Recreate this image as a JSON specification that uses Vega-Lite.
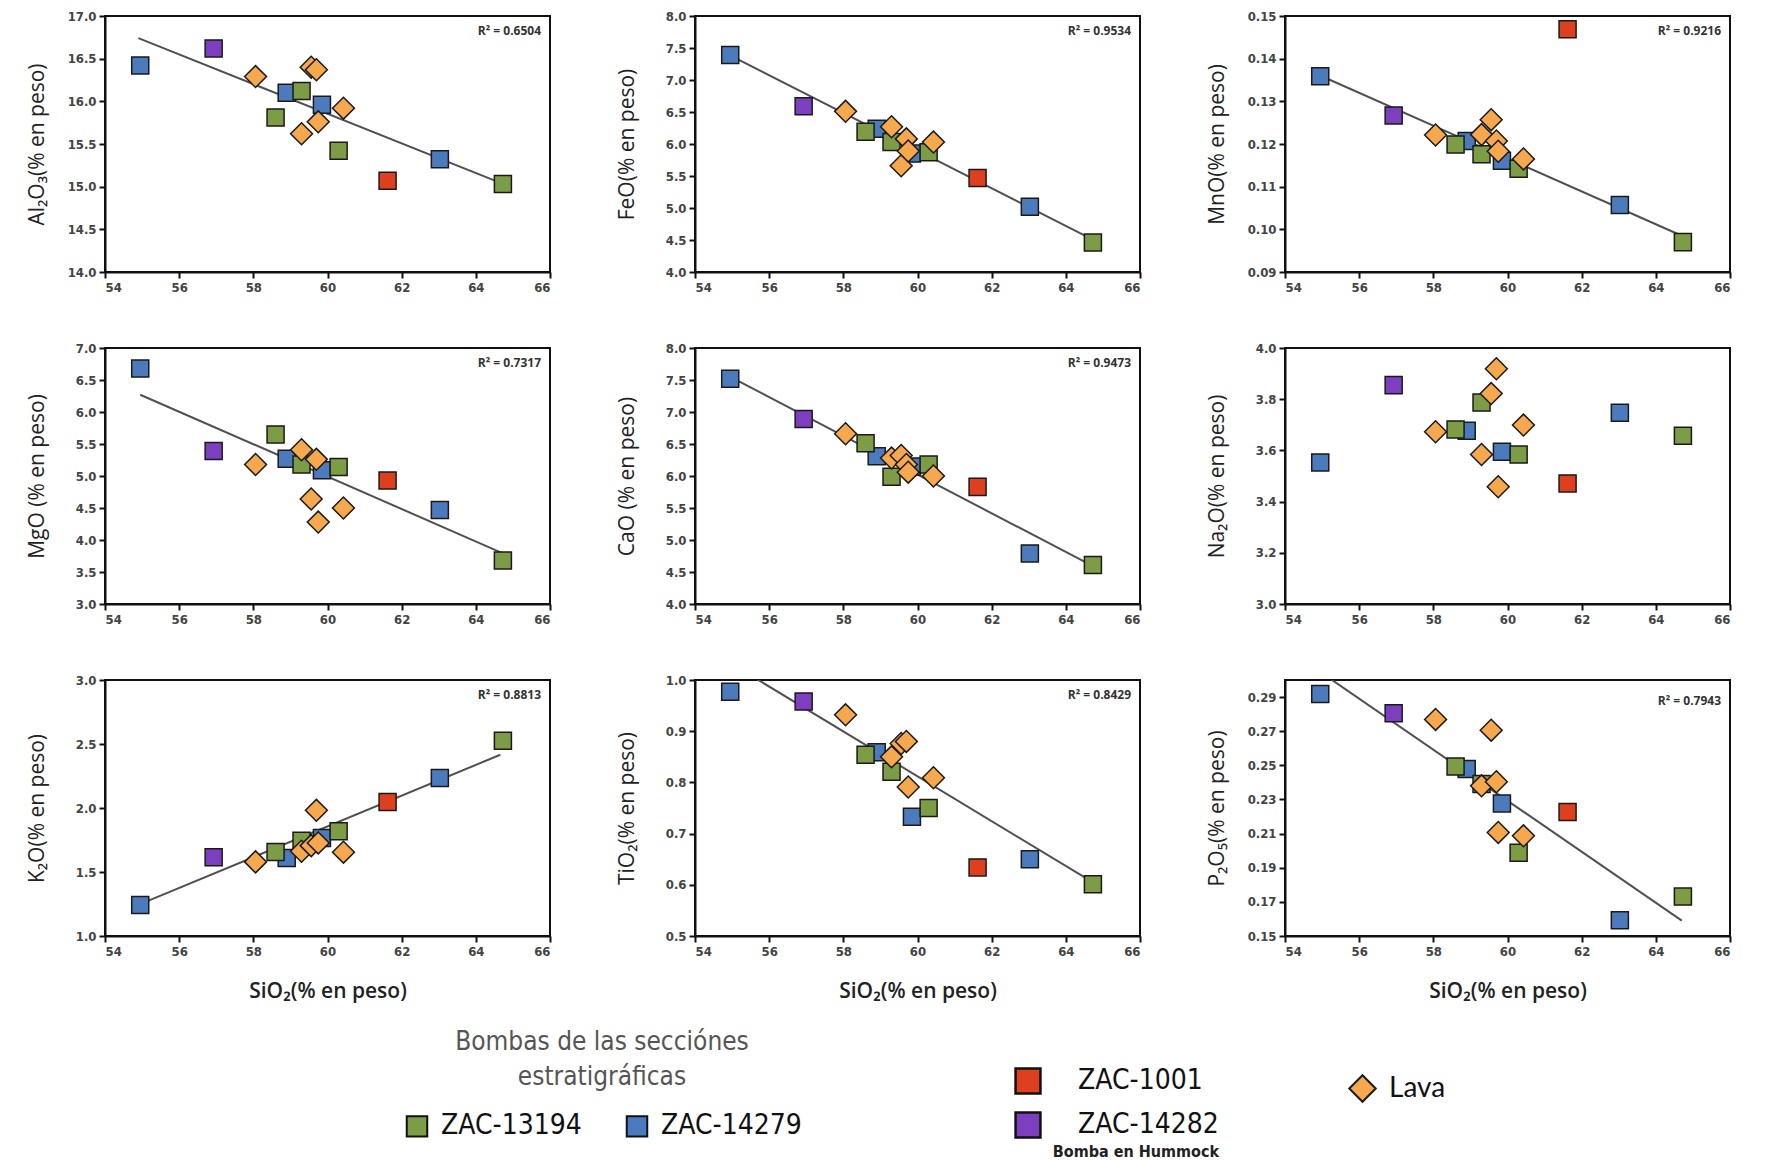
{
  "$schema": "https://vega.github.io/schema/vega-lite/v6.json",
  "padding": {"left": 24, "top": 9, "right": 5, "bottom": 5},
  "background": "white",
  "datasets": {
    "muestras": [
      {"muestra": "B1", "grupo": "ZAC-14279", "SiO2": 54.95, "Al2O3": 16.42, "FeO": 7.39, "MnO": 0.1359, "MgO": 6.68, "CaO": 7.52, "Na2O": 3.553, "K2O": 1.242, "TiO2": 0.977, "P2O5": 0.2918},
      {"muestra": "B2", "grupo": "ZAC-14279", "SiO2": 58.9, "Al2O3": 16.10, "FeO": 6.24, "MnO": 0.1207, "MgO": 5.27, "CaO": 6.31, "Na2O": 3.677, "K2O": 1.61, "TiO2": 0.859, "P2O5": 0.2479},
      {"muestra": "B3", "grupo": "ZAC-14279", "SiO2": 59.85, "Al2O3": 15.96, "FeO": 5.85, "MnO": 0.1161, "MgO": 5.09, "CaO": 6.15, "Na2O": 3.595, "K2O": 1.766, "TiO2": 0.733, "P2O5": 0.2277},
      {"muestra": "B4", "grupo": "ZAC-14279", "SiO2": 63.03, "Al2O3": 15.32, "FeO": 5.02, "MnO": 0.1057, "MgO": 4.47, "CaO": 4.79, "Na2O": 3.747, "K2O": 2.234, "TiO2": 0.650, "P2O5": 0.1592},
      {"muestra": "G1", "grupo": "ZAC-13194", "SiO2": 58.6, "Al2O3": 15.81, "FeO": 6.19, "MnO": 0.1199, "MgO": 5.65, "CaO": 6.51, "Na2O": 3.682, "K2O": 1.657, "TiO2": 0.854, "P2O5": 0.2493},
      {"muestra": "G2", "grupo": "ZAC-13194", "SiO2": 59.3, "Al2O3": 16.12, "FeO": 6.03, "MnO": 0.1176, "MgO": 5.18, "CaO": 5.99, "Na2O": 3.787, "K2O": 1.745, "TiO2": 0.821, "P2O5": 0.239},
      {"muestra": "G3", "grupo": "ZAC-13194", "SiO2": 60.3, "Al2O3": 15.42, "FeO": 5.87, "MnO": 0.1142, "MgO": 5.14, "CaO": 6.18, "Na2O": 3.584, "K2O": 1.818, "TiO2": 0.750, "P2O5": 0.1988},
      {"muestra": "G4", "grupo": "ZAC-13194", "SiO2": 64.73, "Al2O3": 15.03, "FeO": 4.46, "MnO": 0.0970, "MgO": 3.68, "CaO": 4.61, "Na2O": 3.657, "K2O": 2.525, "TiO2": 0.601, "P2O5": 0.1731},
      {"muestra": "R1", "grupo": "ZAC-1001", "SiO2": 61.62, "Al2O3": 15.07, "FeO": 5.47, "MnO": 0.1469, "MgO": 4.93, "CaO": 5.83, "Na2O": 3.471, "K2O": 2.047, "TiO2": 0.634, "P2O5": 0.2226},
      {"muestra": "P1", "grupo": "ZAC-14282", "SiO2": 56.93, "Al2O3": 16.62, "FeO": 6.59, "MnO": 0.1267, "MgO": 5.39, "CaO": 6.89, "Na2O": 3.855, "K2O": 1.616, "TiO2": 0.958, "P2O5": 0.2805},
      {"muestra": "L1", "grupo": "Lava", "SiO2": 58.06, "Al2O3": 16.29, "FeO": 6.51, "MnO": 0.1221, "MgO": 5.18, "CaO": 6.66, "Na2O": 3.673, "K2O": 1.579, "TiO2": 0.932, "P2O5": 0.2769},
      {"muestra": "L2", "grupo": "Lava", "SiO2": 59.3, "Al2O3": 15.62, "FeO": 6.27, "MnO": 0.1222, "MgO": 5.41, "CaO": 6.28, "Na2O": 3.584, "K2O": 1.662, "TiO2": 0.850, "P2O5": 0.238},
      {"muestra": "L3", "grupo": "Lava", "SiO2": 59.56, "Al2O3": 16.40, "FeO": 5.66, "MnO": 0.1257, "MgO": 4.64, "CaO": 6.32, "Na2O": 3.822, "K2O": 1.706, "TiO2": 0.876, "P2O5": 0.2706},
      {"muestra": "L4", "grupo": "Lava", "SiO2": 59.7, "Al2O3": 16.37, "FeO": 6.08, "MnO": 0.1207, "MgO": 5.26, "CaO": 6.18, "Na2O": 3.919, "K2O": 1.982, "TiO2": 0.880, "P2O5": 0.2404},
      {"muestra": "L5", "grupo": "Lava", "SiO2": 59.75, "Al2O3": 15.76, "FeO": 5.89, "MnO": 0.1183, "MgO": 4.28, "CaO": 6.06, "Na2O": 3.458, "K2O": 1.727, "TiO2": 0.791, "P2O5": 0.2107},
      {"muestra": "L6", "grupo": "Lava", "SiO2": 60.43, "Al2O3": 15.92, "FeO": 6.03, "MnO": 0.1165, "MgO": 4.50, "CaO": 6.00, "Na2O": 3.699, "K2O": 1.655, "TiO2": 0.809, "P2O5": 0.2087}
    ],
    "lineas": [
      {"oxido": "Al2O3", "SiO2": 54.9, "valor": 16.74},
      {"oxido": "Al2O3", "SiO2": 64.75, "valor": 15.03},
      {"oxido": "FeO", "SiO2": 55.0, "valor": 7.37},
      {"oxido": "FeO", "SiO2": 64.78, "valor": 4.49},
      {"oxido": "MnO", "SiO2": 54.96, "valor": 0.136},
      {"oxido": "MnO", "SiO2": 64.7, "valor": 0.0985},
      {"oxido": "MgO", "SiO2": 54.95, "valor": 6.27},
      {"oxido": "MgO", "SiO2": 64.7, "valor": 3.80},
      {"oxido": "CaO", "SiO2": 54.98, "valor": 7.54},
      {"oxido": "CaO", "SiO2": 64.67, "valor": 4.61},
      {"oxido": "K2O", "SiO2": 54.93, "valor": 1.247},
      {"oxido": "K2O", "SiO2": 64.66, "valor": 2.416},
      {"oxido": "TiO2", "SiO2": 55.0, "valor": 1.031},
      {"oxido": "TiO2", "SiO2": 64.7, "valor": 0.606},
      {"oxido": "P2O5", "SiO2": 55.0, "valor": 0.304},
      {"oxido": "P2O5", "SiO2": 64.7, "valor": 0.159}
    ]
  },
  "concat": [
    {
      "width": 445, "height": 256,
      "title": {"text": "R² = 0.6504"},
      "encoding": {"x": {"field": "SiO2", "type": "quantitative", "scale": {"domain": [54, 66], "nice": false, "zero": false}, "axis": {"values": [54, 56, 58, 60, 62, 64, 66], "title": null}}},
      "layer": [
        {"data": {"name": "lineas"}, "transform": [{"filter": "datum.oxido == 'Al2O3'"}], "mark": {"type": "line", "clip": true},
         "encoding": {"y": {"field": "valor", "type": "quantitative", "scale": {"domain": [14, 17], "nice": false, "zero": false}, "axis": {"values": [14, 14.5, 15, 15.5, 16, 16.5, 17], "format": ".1f", "title": "Al₂O₃(% en peso)"}}}},
        {"data": {"name": "muestras"}, "transform": [{"filter": "datum.grupo == 'ZAC-13194' || datum.grupo == 'ZAC-14279'"}], "mark": {"type": "point", "shape": "square", "size": 290, "filled": true, "opacity": 1, "stroke": "#1a1a1a", "strokeWidth": 1.5},
         "encoding": {"y": {"field": "Al2O3", "type": "quantitative", "scale": {"domain": [14, 17], "nice": false, "zero": false}, "axis": {"values": [14, 14.5, 15, 15.5, 16, 16.5, 17], "format": ".1f", "title": "Al₂O₃(% en peso)"}},
          "fill": {"field": "grupo", "type": "nominal", "scale": {"domain": ["ZAC-13194", "ZAC-14279"], "range": ["#7c9c45", "#4c7bbd"]}, "legend": {"title": ["Bombas de las secciónes", "estratigráficas"], "orient": "none", "legendX": 298, "legendY": 1013, "direction": "horizontal", "titleAnchor": "middle", "titleFontSize": 26, "titleLineHeight": 35, "titleColor": "#555", "titleFontWeight": "normal", "titlePadding": 22, "labelFontSize": 28, "symbolType": "square", "symbolSize": 420, "symbolStrokeColor": "#111", "symbolStrokeWidth": 2, "columnPadding": 40, "labelOffset": 10}}}},
        {"data": {"name": "muestras"}, "transform": [{"filter": "datum.grupo == 'ZAC-1001' || datum.grupo == 'ZAC-14282'"}], "mark": {"type": "point", "shape": "square", "size": 290, "filled": true, "opacity": 1, "stroke": "#1a1a1a", "strokeWidth": 1.5},
         "encoding": {"y": {"field": "Al2O3", "type": "quantitative", "scale": {"domain": [14, 17], "nice": false, "zero": false}, "axis": {"values": [14, 14.5, 15, 15.5, 16, 16.5, 17], "format": ".1f", "title": "Al₂O₃(% en peso)"}},
          "color": {"field": "grupo", "type": "nominal", "scale": {"domain": ["ZAC-1001", "ZAC-14282"], "range": ["#de3f1f", "#7b3fbf"]}, "legend": {"title": "Bomba en Hummock", "titleOrient": "bottom", "titleAnchor": "end", "titleFontSize": 16, "titleFontWeight": "bold", "titleColor": "#222", "titlePadding": 2, "orient": "none", "legendX": 909, "legendY": 1051, "direction": "vertical", "labelFontSize": 28, "symbolType": "square", "symbolSize": 620, "symbolStrokeColor": "#111", "symbolStrokeWidth": 2.5, "rowPadding": 8, "labelOffset": 36}}}},
        {"data": {"name": "muestras"}, "transform": [{"filter": "datum.grupo == 'Lava'"}], "mark": {"type": "point", "shape": "diamond", "size": 480, "filled": true, "opacity": 1, "fill": "#f5a84e", "strokeWidth": 1.5},
         "encoding": {"y": {"field": "Al2O3", "type": "quantitative", "scale": {"domain": [14, 17], "nice": false, "zero": false}, "axis": {"values": [14, 14.5, 15, 15.5, 16, 16.5, 17], "format": ".1f", "title": "Al₂O₃(% en peso)"}},
          "stroke": {"field": "grupo", "type": "nominal", "scale": {"domain": ["Lava"], "range": ["#1a1a1a"]}, "legend": {"title": null, "orient": "none", "legendX": 1243, "legendY": 1058, "labelFontSize": 28, "labelFont": "Lato", "symbolType": "diamond", "symbolSize": 700, "symbolStrokeWidth": 2, "symbolFillColor": "#f5a84e", "labelOffset": 12}}}}
      ]
    },
    {
      "width": 445, "height": 256,
      "title": {"text": "R² = 0.9534"},
      "encoding": {"x": {"field": "SiO2", "type": "quantitative", "scale": {"domain": [54, 66], "nice": false, "zero": false}, "axis": {"values": [54, 56, 58, 60, 62, 64, 66], "title": null}}},
      "layer": [
        {"data": {"name": "lineas"}, "transform": [{"filter": "datum.oxido == 'FeO'"}], "mark": {"type": "line", "clip": true},
         "encoding": {"y": {"field": "valor", "type": "quantitative", "scale": {"domain": [4, 8], "nice": false, "zero": false}, "axis": {"values": [4, 4.5, 5, 5.5, 6, 6.5, 7, 7.5, 8], "format": ".1f", "title": "FeO(% en peso)"}}}},
        {"data": {"name": "muestras"}, "transform": [{"filter": "datum.grupo == 'ZAC-13194' || datum.grupo == 'ZAC-14279'"}], "mark": {"type": "point", "shape": "square", "size": 290, "filled": true, "opacity": 1, "stroke": "#1a1a1a", "strokeWidth": 1.5},
         "encoding": {"y": {"field": "FeO", "type": "quantitative", "scale": {"domain": [4, 8], "nice": false, "zero": false}, "axis": {"values": [4, 4.5, 5, 5.5, 6, 6.5, 7, 7.5, 8], "format": ".1f", "title": "FeO(% en peso)"}},
          "fill": {"field": "grupo", "type": "nominal", "scale": {"domain": ["ZAC-13194", "ZAC-14279"], "range": ["#7c9c45", "#4c7bbd"]}, "legend": {"title": ["Bombas de las secciónes", "estratigráficas"], "orient": "none", "legendX": 298, "legendY": 1013, "direction": "horizontal", "titleAnchor": "middle", "titleFontSize": 26, "titleLineHeight": 35, "titleColor": "#555", "titleFontWeight": "normal", "titlePadding": 22, "labelFontSize": 28, "symbolType": "square", "symbolSize": 420, "symbolStrokeColor": "#111", "symbolStrokeWidth": 2, "columnPadding": 40, "labelOffset": 10}}}},
        {"data": {"name": "muestras"}, "transform": [{"filter": "datum.grupo == 'ZAC-1001' || datum.grupo == 'ZAC-14282'"}], "mark": {"type": "point", "shape": "square", "size": 290, "filled": true, "opacity": 1, "stroke": "#1a1a1a", "strokeWidth": 1.5},
         "encoding": {"y": {"field": "FeO", "type": "quantitative", "scale": {"domain": [4, 8], "nice": false, "zero": false}, "axis": {"values": [4, 4.5, 5, 5.5, 6, 6.5, 7, 7.5, 8], "format": ".1f", "title": "FeO(% en peso)"}},
          "color": {"field": "grupo", "type": "nominal", "scale": {"domain": ["ZAC-1001", "ZAC-14282"], "range": ["#de3f1f", "#7b3fbf"]}, "legend": {"title": "Bomba en Hummock", "titleOrient": "bottom", "titleAnchor": "end", "titleFontSize": 16, "titleFontWeight": "bold", "titleColor": "#222", "titlePadding": 2, "orient": "none", "legendX": 909, "legendY": 1051, "direction": "vertical", "labelFontSize": 28, "symbolType": "square", "symbolSize": 620, "symbolStrokeColor": "#111", "symbolStrokeWidth": 2.5, "rowPadding": 8, "labelOffset": 36}}}},
        {"data": {"name": "muestras"}, "transform": [{"filter": "datum.grupo == 'Lava'"}], "mark": {"type": "point", "shape": "diamond", "size": 480, "filled": true, "opacity": 1, "fill": "#f5a84e", "strokeWidth": 1.5},
         "encoding": {"y": {"field": "FeO", "type": "quantitative", "scale": {"domain": [4, 8], "nice": false, "zero": false}, "axis": {"values": [4, 4.5, 5, 5.5, 6, 6.5, 7, 7.5, 8], "format": ".1f", "title": "FeO(% en peso)"}},
          "stroke": {"field": "grupo", "type": "nominal", "scale": {"domain": ["Lava"], "range": ["#1a1a1a"]}, "legend": {"title": null, "orient": "none", "legendX": 1243, "legendY": 1058, "labelFontSize": 28, "labelFont": "Lato", "symbolType": "diamond", "symbolSize": 700, "symbolStrokeWidth": 2, "symbolFillColor": "#f5a84e", "labelOffset": 12}}}}
      ]
    },
    {
      "width": 445, "height": 256,
      "title": {"text": "R² = 0.9216"},
      "encoding": {"x": {"field": "SiO2", "type": "quantitative", "scale": {"domain": [54, 66], "nice": false, "zero": false}, "axis": {"values": [54, 56, 58, 60, 62, 64, 66], "title": null}}},
      "layer": [
        {"data": {"name": "lineas"}, "transform": [{"filter": "datum.oxido == 'MnO'"}], "mark": {"type": "line", "clip": true},
         "encoding": {"y": {"field": "valor", "type": "quantitative", "scale": {"domain": [0.09, 0.15], "nice": false, "zero": false}, "axis": {"values": [0.09, 0.1, 0.11, 0.12, 0.13, 0.14, 0.15], "format": ".2f", "title": "MnO(% en peso)"}}}},
        {"data": {"name": "muestras"}, "transform": [{"filter": "datum.grupo == 'ZAC-13194' || datum.grupo == 'ZAC-14279'"}], "mark": {"type": "point", "shape": "square", "size": 290, "filled": true, "opacity": 1, "stroke": "#1a1a1a", "strokeWidth": 1.5},
         "encoding": {"y": {"field": "MnO", "type": "quantitative", "scale": {"domain": [0.09, 0.15], "nice": false, "zero": false}, "axis": {"values": [0.09, 0.1, 0.11, 0.12, 0.13, 0.14, 0.15], "format": ".2f", "title": "MnO(% en peso)"}},
          "fill": {"field": "grupo", "type": "nominal", "scale": {"domain": ["ZAC-13194", "ZAC-14279"], "range": ["#7c9c45", "#4c7bbd"]}, "legend": {"title": ["Bombas de las secciónes", "estratigráficas"], "orient": "none", "legendX": 298, "legendY": 1013, "direction": "horizontal", "titleAnchor": "middle", "titleFontSize": 26, "titleLineHeight": 35, "titleColor": "#555", "titleFontWeight": "normal", "titlePadding": 22, "labelFontSize": 28, "symbolType": "square", "symbolSize": 420, "symbolStrokeColor": "#111", "symbolStrokeWidth": 2, "columnPadding": 40, "labelOffset": 10}}}},
        {"data": {"name": "muestras"}, "transform": [{"filter": "datum.grupo == 'ZAC-1001' || datum.grupo == 'ZAC-14282'"}], "mark": {"type": "point", "shape": "square", "size": 290, "filled": true, "opacity": 1, "stroke": "#1a1a1a", "strokeWidth": 1.5},
         "encoding": {"y": {"field": "MnO", "type": "quantitative", "scale": {"domain": [0.09, 0.15], "nice": false, "zero": false}, "axis": {"values": [0.09, 0.1, 0.11, 0.12, 0.13, 0.14, 0.15], "format": ".2f", "title": "MnO(% en peso)"}},
          "color": {"field": "grupo", "type": "nominal", "scale": {"domain": ["ZAC-1001", "ZAC-14282"], "range": ["#de3f1f", "#7b3fbf"]}, "legend": {"title": "Bomba en Hummock", "titleOrient": "bottom", "titleAnchor": "end", "titleFontSize": 16, "titleFontWeight": "bold", "titleColor": "#222", "titlePadding": 2, "orient": "none", "legendX": 909, "legendY": 1051, "direction": "vertical", "labelFontSize": 28, "symbolType": "square", "symbolSize": 620, "symbolStrokeColor": "#111", "symbolStrokeWidth": 2.5, "rowPadding": 8, "labelOffset": 36}}}},
        {"data": {"name": "muestras"}, "transform": [{"filter": "datum.grupo == 'Lava'"}], "mark": {"type": "point", "shape": "diamond", "size": 480, "filled": true, "opacity": 1, "fill": "#f5a84e", "strokeWidth": 1.5},
         "encoding": {"y": {"field": "MnO", "type": "quantitative", "scale": {"domain": [0.09, 0.15], "nice": false, "zero": false}, "axis": {"values": [0.09, 0.1, 0.11, 0.12, 0.13, 0.14, 0.15], "format": ".2f", "title": "MnO(% en peso)"}},
          "stroke": {"field": "grupo", "type": "nominal", "scale": {"domain": ["Lava"], "range": ["#1a1a1a"]}, "legend": {"title": null, "orient": "none", "legendX": 1243, "legendY": 1058, "labelFontSize": 28, "labelFont": "Lato", "symbolType": "diamond", "symbolSize": 700, "symbolStrokeWidth": 2, "symbolFillColor": "#f5a84e", "labelOffset": 12}}}}
      ]
    },
    {
      "width": 445, "height": 256,
      "title": {"text": "R² = 0.7317"},
      "encoding": {"x": {"field": "SiO2", "type": "quantitative", "scale": {"domain": [54, 66], "nice": false, "zero": false}, "axis": {"values": [54, 56, 58, 60, 62, 64, 66], "title": null}}},
      "layer": [
        {"data": {"name": "lineas"}, "transform": [{"filter": "datum.oxido == 'MgO'"}], "mark": {"type": "line", "clip": true},
         "encoding": {"y": {"field": "valor", "type": "quantitative", "scale": {"domain": [3, 7], "nice": false, "zero": false}, "axis": {"values": [3, 3.5, 4, 4.5, 5, 5.5, 6, 6.5, 7], "format": ".1f", "title": "MgO (% en peso)"}}}},
        {"data": {"name": "muestras"}, "transform": [{"filter": "datum.grupo == 'ZAC-13194' || datum.grupo == 'ZAC-14279'"}], "mark": {"type": "point", "shape": "square", "size": 290, "filled": true, "opacity": 1, "stroke": "#1a1a1a", "strokeWidth": 1.5},
         "encoding": {"y": {"field": "MgO", "type": "quantitative", "scale": {"domain": [3, 7], "nice": false, "zero": false}, "axis": {"values": [3, 3.5, 4, 4.5, 5, 5.5, 6, 6.5, 7], "format": ".1f", "title": "MgO (% en peso)"}},
          "fill": {"field": "grupo", "type": "nominal", "scale": {"domain": ["ZAC-13194", "ZAC-14279"], "range": ["#7c9c45", "#4c7bbd"]}, "legend": {"title": ["Bombas de las secciónes", "estratigráficas"], "orient": "none", "legendX": 298, "legendY": 1013, "direction": "horizontal", "titleAnchor": "middle", "titleFontSize": 26, "titleLineHeight": 35, "titleColor": "#555", "titleFontWeight": "normal", "titlePadding": 22, "labelFontSize": 28, "symbolType": "square", "symbolSize": 420, "symbolStrokeColor": "#111", "symbolStrokeWidth": 2, "columnPadding": 40, "labelOffset": 10}}}},
        {"data": {"name": "muestras"}, "transform": [{"filter": "datum.grupo == 'ZAC-1001' || datum.grupo == 'ZAC-14282'"}], "mark": {"type": "point", "shape": "square", "size": 290, "filled": true, "opacity": 1, "stroke": "#1a1a1a", "strokeWidth": 1.5},
         "encoding": {"y": {"field": "MgO", "type": "quantitative", "scale": {"domain": [3, 7], "nice": false, "zero": false}, "axis": {"values": [3, 3.5, 4, 4.5, 5, 5.5, 6, 6.5, 7], "format": ".1f", "title": "MgO (% en peso)"}},
          "color": {"field": "grupo", "type": "nominal", "scale": {"domain": ["ZAC-1001", "ZAC-14282"], "range": ["#de3f1f", "#7b3fbf"]}, "legend": {"title": "Bomba en Hummock", "titleOrient": "bottom", "titleAnchor": "end", "titleFontSize": 16, "titleFontWeight": "bold", "titleColor": "#222", "titlePadding": 2, "orient": "none", "legendX": 909, "legendY": 1051, "direction": "vertical", "labelFontSize": 28, "symbolType": "square", "symbolSize": 620, "symbolStrokeColor": "#111", "symbolStrokeWidth": 2.5, "rowPadding": 8, "labelOffset": 36}}}},
        {"data": {"name": "muestras"}, "transform": [{"filter": "datum.grupo == 'Lava'"}], "mark": {"type": "point", "shape": "diamond", "size": 480, "filled": true, "opacity": 1, "fill": "#f5a84e", "strokeWidth": 1.5},
         "encoding": {"y": {"field": "MgO", "type": "quantitative", "scale": {"domain": [3, 7], "nice": false, "zero": false}, "axis": {"values": [3, 3.5, 4, 4.5, 5, 5.5, 6, 6.5, 7], "format": ".1f", "title": "MgO (% en peso)"}},
          "stroke": {"field": "grupo", "type": "nominal", "scale": {"domain": ["Lava"], "range": ["#1a1a1a"]}, "legend": {"title": null, "orient": "none", "legendX": 1243, "legendY": 1058, "labelFontSize": 28, "labelFont": "Lato", "symbolType": "diamond", "symbolSize": 700, "symbolStrokeWidth": 2, "symbolFillColor": "#f5a84e", "labelOffset": 12}}}}
      ]
    },
    {
      "width": 445, "height": 256,
      "title": {"text": "R² = 0.9473"},
      "encoding": {"x": {"field": "SiO2", "type": "quantitative", "scale": {"domain": [54, 66], "nice": false, "zero": false}, "axis": {"values": [54, 56, 58, 60, 62, 64, 66], "title": null}}},
      "layer": [
        {"data": {"name": "lineas"}, "transform": [{"filter": "datum.oxido == 'CaO'"}], "mark": {"type": "line", "clip": true},
         "encoding": {"y": {"field": "valor", "type": "quantitative", "scale": {"domain": [4, 8], "nice": false, "zero": false}, "axis": {"values": [4, 4.5, 5, 5.5, 6, 6.5, 7, 7.5, 8], "format": ".1f", "title": "CaO (% en peso)"}}}},
        {"data": {"name": "muestras"}, "transform": [{"filter": "datum.grupo == 'ZAC-13194' || datum.grupo == 'ZAC-14279'"}], "mark": {"type": "point", "shape": "square", "size": 290, "filled": true, "opacity": 1, "stroke": "#1a1a1a", "strokeWidth": 1.5},
         "encoding": {"y": {"field": "CaO", "type": "quantitative", "scale": {"domain": [4, 8], "nice": false, "zero": false}, "axis": {"values": [4, 4.5, 5, 5.5, 6, 6.5, 7, 7.5, 8], "format": ".1f", "title": "CaO (% en peso)"}},
          "fill": {"field": "grupo", "type": "nominal", "scale": {"domain": ["ZAC-13194", "ZAC-14279"], "range": ["#7c9c45", "#4c7bbd"]}, "legend": {"title": ["Bombas de las secciónes", "estratigráficas"], "orient": "none", "legendX": 298, "legendY": 1013, "direction": "horizontal", "titleAnchor": "middle", "titleFontSize": 26, "titleLineHeight": 35, "titleColor": "#555", "titleFontWeight": "normal", "titlePadding": 22, "labelFontSize": 28, "symbolType": "square", "symbolSize": 420, "symbolStrokeColor": "#111", "symbolStrokeWidth": 2, "columnPadding": 40, "labelOffset": 10}}}},
        {"data": {"name": "muestras"}, "transform": [{"filter": "datum.grupo == 'ZAC-1001' || datum.grupo == 'ZAC-14282'"}], "mark": {"type": "point", "shape": "square", "size": 290, "filled": true, "opacity": 1, "stroke": "#1a1a1a", "strokeWidth": 1.5},
         "encoding": {"y": {"field": "CaO", "type": "quantitative", "scale": {"domain": [4, 8], "nice": false, "zero": false}, "axis": {"values": [4, 4.5, 5, 5.5, 6, 6.5, 7, 7.5, 8], "format": ".1f", "title": "CaO (% en peso)"}},
          "color": {"field": "grupo", "type": "nominal", "scale": {"domain": ["ZAC-1001", "ZAC-14282"], "range": ["#de3f1f", "#7b3fbf"]}, "legend": {"title": "Bomba en Hummock", "titleOrient": "bottom", "titleAnchor": "end", "titleFontSize": 16, "titleFontWeight": "bold", "titleColor": "#222", "titlePadding": 2, "orient": "none", "legendX": 909, "legendY": 1051, "direction": "vertical", "labelFontSize": 28, "symbolType": "square", "symbolSize": 620, "symbolStrokeColor": "#111", "symbolStrokeWidth": 2.5, "rowPadding": 8, "labelOffset": 36}}}},
        {"data": {"name": "muestras"}, "transform": [{"filter": "datum.grupo == 'Lava'"}], "mark": {"type": "point", "shape": "diamond", "size": 480, "filled": true, "opacity": 1, "fill": "#f5a84e", "strokeWidth": 1.5},
         "encoding": {"y": {"field": "CaO", "type": "quantitative", "scale": {"domain": [4, 8], "nice": false, "zero": false}, "axis": {"values": [4, 4.5, 5, 5.5, 6, 6.5, 7, 7.5, 8], "format": ".1f", "title": "CaO (% en peso)"}},
          "stroke": {"field": "grupo", "type": "nominal", "scale": {"domain": ["Lava"], "range": ["#1a1a1a"]}, "legend": {"title": null, "orient": "none", "legendX": 1243, "legendY": 1058, "labelFontSize": 28, "labelFont": "Lato", "symbolType": "diamond", "symbolSize": 700, "symbolStrokeWidth": 2, "symbolFillColor": "#f5a84e", "labelOffset": 12}}}}
      ]
    },
    {
      "width": 445, "height": 256,
      "encoding": {"x": {"field": "SiO2", "type": "quantitative", "scale": {"domain": [54, 66], "nice": false, "zero": false}, "axis": {"values": [54, 56, 58, 60, 62, 64, 66], "title": null}}},
      "layer": [
        {"data": {"name": "muestras"}, "transform": [{"filter": "datum.grupo == 'ZAC-13194' || datum.grupo == 'ZAC-14279'"}], "mark": {"type": "point", "shape": "square", "size": 290, "filled": true, "opacity": 1, "stroke": "#1a1a1a", "strokeWidth": 1.5},
         "encoding": {"y": {"field": "Na2O", "type": "quantitative", "scale": {"domain": [3, 4], "nice": false, "zero": false}, "axis": {"values": [3, 3.2, 3.4, 3.6, 3.8, 4], "format": ".1f", "title": "Na₂O(% en peso)"}},
          "fill": {"field": "grupo", "type": "nominal", "scale": {"domain": ["ZAC-13194", "ZAC-14279"], "range": ["#7c9c45", "#4c7bbd"]}, "legend": {"title": ["Bombas de las secciónes", "estratigráficas"], "orient": "none", "legendX": 298, "legendY": 1013, "direction": "horizontal", "titleAnchor": "middle", "titleFontSize": 26, "titleLineHeight": 35, "titleColor": "#555", "titleFontWeight": "normal", "titlePadding": 22, "labelFontSize": 28, "symbolType": "square", "symbolSize": 420, "symbolStrokeColor": "#111", "symbolStrokeWidth": 2, "columnPadding": 40, "labelOffset": 10}}}},
        {"data": {"name": "muestras"}, "transform": [{"filter": "datum.grupo == 'ZAC-1001' || datum.grupo == 'ZAC-14282'"}], "mark": {"type": "point", "shape": "square", "size": 290, "filled": true, "opacity": 1, "stroke": "#1a1a1a", "strokeWidth": 1.5},
         "encoding": {"y": {"field": "Na2O", "type": "quantitative", "scale": {"domain": [3, 4], "nice": false, "zero": false}, "axis": {"values": [3, 3.2, 3.4, 3.6, 3.8, 4], "format": ".1f", "title": "Na₂O(% en peso)"}},
          "color": {"field": "grupo", "type": "nominal", "scale": {"domain": ["ZAC-1001", "ZAC-14282"], "range": ["#de3f1f", "#7b3fbf"]}, "legend": {"title": "Bomba en Hummock", "titleOrient": "bottom", "titleAnchor": "end", "titleFontSize": 16, "titleFontWeight": "bold", "titleColor": "#222", "titlePadding": 2, "orient": "none", "legendX": 909, "legendY": 1051, "direction": "vertical", "labelFontSize": 28, "symbolType": "square", "symbolSize": 620, "symbolStrokeColor": "#111", "symbolStrokeWidth": 2.5, "rowPadding": 8, "labelOffset": 36}}}},
        {"data": {"name": "muestras"}, "transform": [{"filter": "datum.grupo == 'Lava'"}], "mark": {"type": "point", "shape": "diamond", "size": 480, "filled": true, "opacity": 1, "fill": "#f5a84e", "strokeWidth": 1.5},
         "encoding": {"y": {"field": "Na2O", "type": "quantitative", "scale": {"domain": [3, 4], "nice": false, "zero": false}, "axis": {"values": [3, 3.2, 3.4, 3.6, 3.8, 4], "format": ".1f", "title": "Na₂O(% en peso)"}},
          "stroke": {"field": "grupo", "type": "nominal", "scale": {"domain": ["Lava"], "range": ["#1a1a1a"]}, "legend": {"title": null, "orient": "none", "legendX": 1243, "legendY": 1058, "labelFontSize": 28, "labelFont": "Lato", "symbolType": "diamond", "symbolSize": 700, "symbolStrokeWidth": 2, "symbolFillColor": "#f5a84e", "labelOffset": 12}}}}
      ]
    },
    {
      "width": 445, "height": 256,
      "title": {"text": "R² = 0.8813"},
      "encoding": {"x": {"field": "SiO2", "type": "quantitative", "scale": {"domain": [54, 66], "nice": false, "zero": false}, "axis": {"values": [54, 56, 58, 60, 62, 64, 66], "title": "SiO₂(% en peso)"}}},
      "layer": [
        {"data": {"name": "lineas"}, "transform": [{"filter": "datum.oxido == 'K2O'"}], "mark": {"type": "line", "clip": true},
         "encoding": {"y": {"field": "valor", "type": "quantitative", "scale": {"domain": [1, 3], "nice": false, "zero": false}, "axis": {"values": [1, 1.5, 2, 2.5, 3], "format": ".1f", "title": "K₂O(% en peso)"}}}},
        {"data": {"name": "muestras"}, "transform": [{"filter": "datum.grupo == 'ZAC-13194' || datum.grupo == 'ZAC-14279'"}], "mark": {"type": "point", "shape": "square", "size": 290, "filled": true, "opacity": 1, "stroke": "#1a1a1a", "strokeWidth": 1.5},
         "encoding": {"y": {"field": "K2O", "type": "quantitative", "scale": {"domain": [1, 3], "nice": false, "zero": false}, "axis": {"values": [1, 1.5, 2, 2.5, 3], "format": ".1f", "title": "K₂O(% en peso)"}},
          "fill": {"field": "grupo", "type": "nominal", "scale": {"domain": ["ZAC-13194", "ZAC-14279"], "range": ["#7c9c45", "#4c7bbd"]}, "legend": {"title": ["Bombas de las secciónes", "estratigráficas"], "orient": "none", "legendX": 298, "legendY": 1013, "direction": "horizontal", "titleAnchor": "middle", "titleFontSize": 26, "titleLineHeight": 35, "titleColor": "#555", "titleFontWeight": "normal", "titlePadding": 22, "labelFontSize": 28, "symbolType": "square", "symbolSize": 420, "symbolStrokeColor": "#111", "symbolStrokeWidth": 2, "columnPadding": 40, "labelOffset": 10}}}},
        {"data": {"name": "muestras"}, "transform": [{"filter": "datum.grupo == 'ZAC-1001' || datum.grupo == 'ZAC-14282'"}], "mark": {"type": "point", "shape": "square", "size": 290, "filled": true, "opacity": 1, "stroke": "#1a1a1a", "strokeWidth": 1.5},
         "encoding": {"y": {"field": "K2O", "type": "quantitative", "scale": {"domain": [1, 3], "nice": false, "zero": false}, "axis": {"values": [1, 1.5, 2, 2.5, 3], "format": ".1f", "title": "K₂O(% en peso)"}},
          "color": {"field": "grupo", "type": "nominal", "scale": {"domain": ["ZAC-1001", "ZAC-14282"], "range": ["#de3f1f", "#7b3fbf"]}, "legend": {"title": "Bomba en Hummock", "titleOrient": "bottom", "titleAnchor": "end", "titleFontSize": 16, "titleFontWeight": "bold", "titleColor": "#222", "titlePadding": 2, "orient": "none", "legendX": 909, "legendY": 1051, "direction": "vertical", "labelFontSize": 28, "symbolType": "square", "symbolSize": 620, "symbolStrokeColor": "#111", "symbolStrokeWidth": 2.5, "rowPadding": 8, "labelOffset": 36}}}},
        {"data": {"name": "muestras"}, "transform": [{"filter": "datum.grupo == 'Lava'"}], "mark": {"type": "point", "shape": "diamond", "size": 480, "filled": true, "opacity": 1, "fill": "#f5a84e", "strokeWidth": 1.5},
         "encoding": {"y": {"field": "K2O", "type": "quantitative", "scale": {"domain": [1, 3], "nice": false, "zero": false}, "axis": {"values": [1, 1.5, 2, 2.5, 3], "format": ".1f", "title": "K₂O(% en peso)"}},
          "stroke": {"field": "grupo", "type": "nominal", "scale": {"domain": ["Lava"], "range": ["#1a1a1a"]}, "legend": {"title": null, "orient": "none", "legendX": 1243, "legendY": 1058, "labelFontSize": 28, "labelFont": "Lato", "symbolType": "diamond", "symbolSize": 700, "symbolStrokeWidth": 2, "symbolFillColor": "#f5a84e", "labelOffset": 12}}}}
      ]
    },
    {
      "width": 445, "height": 256,
      "title": {"text": "R² = 0.8429"},
      "encoding": {"x": {"field": "SiO2", "type": "quantitative", "scale": {"domain": [54, 66], "nice": false, "zero": false}, "axis": {"values": [54, 56, 58, 60, 62, 64, 66], "title": "SiO₂(% en peso)"}}},
      "layer": [
        {"data": {"name": "lineas"}, "transform": [{"filter": "datum.oxido == 'TiO2'"}], "mark": {"type": "line", "clip": true},
         "encoding": {"y": {"field": "valor", "type": "quantitative", "scale": {"domain": [0.5, 1], "nice": false, "zero": false}, "axis": {"values": [0.5, 0.6, 0.7, 0.8, 0.9, 1], "format": ".1f", "title": "TiO₂(% en peso)"}}}},
        {"data": {"name": "muestras"}, "transform": [{"filter": "datum.grupo == 'ZAC-13194' || datum.grupo == 'ZAC-14279'"}], "mark": {"type": "point", "shape": "square", "size": 290, "filled": true, "opacity": 1, "stroke": "#1a1a1a", "strokeWidth": 1.5},
         "encoding": {"y": {"field": "TiO2", "type": "quantitative", "scale": {"domain": [0.5, 1], "nice": false, "zero": false}, "axis": {"values": [0.5, 0.6, 0.7, 0.8, 0.9, 1], "format": ".1f", "title": "TiO₂(% en peso)"}},
          "fill": {"field": "grupo", "type": "nominal", "scale": {"domain": ["ZAC-13194", "ZAC-14279"], "range": ["#7c9c45", "#4c7bbd"]}, "legend": {"title": ["Bombas de las secciónes", "estratigráficas"], "orient": "none", "legendX": 298, "legendY": 1013, "direction": "horizontal", "titleAnchor": "middle", "titleFontSize": 26, "titleLineHeight": 35, "titleColor": "#555", "titleFontWeight": "normal", "titlePadding": 22, "labelFontSize": 28, "symbolType": "square", "symbolSize": 420, "symbolStrokeColor": "#111", "symbolStrokeWidth": 2, "columnPadding": 40, "labelOffset": 10}}}},
        {"data": {"name": "muestras"}, "transform": [{"filter": "datum.grupo == 'ZAC-1001' || datum.grupo == 'ZAC-14282'"}], "mark": {"type": "point", "shape": "square", "size": 290, "filled": true, "opacity": 1, "stroke": "#1a1a1a", "strokeWidth": 1.5},
         "encoding": {"y": {"field": "TiO2", "type": "quantitative", "scale": {"domain": [0.5, 1], "nice": false, "zero": false}, "axis": {"values": [0.5, 0.6, 0.7, 0.8, 0.9, 1], "format": ".1f", "title": "TiO₂(% en peso)"}},
          "color": {"field": "grupo", "type": "nominal", "scale": {"domain": ["ZAC-1001", "ZAC-14282"], "range": ["#de3f1f", "#7b3fbf"]}, "legend": {"title": "Bomba en Hummock", "titleOrient": "bottom", "titleAnchor": "end", "titleFontSize": 16, "titleFontWeight": "bold", "titleColor": "#222", "titlePadding": 2, "orient": "none", "legendX": 909, "legendY": 1051, "direction": "vertical", "labelFontSize": 28, "symbolType": "square", "symbolSize": 620, "symbolStrokeColor": "#111", "symbolStrokeWidth": 2.5, "rowPadding": 8, "labelOffset": 36}}}},
        {"data": {"name": "muestras"}, "transform": [{"filter": "datum.grupo == 'Lava'"}], "mark": {"type": "point", "shape": "diamond", "size": 480, "filled": true, "opacity": 1, "fill": "#f5a84e", "strokeWidth": 1.5},
         "encoding": {"y": {"field": "TiO2", "type": "quantitative", "scale": {"domain": [0.5, 1], "nice": false, "zero": false}, "axis": {"values": [0.5, 0.6, 0.7, 0.8, 0.9, 1], "format": ".1f", "title": "TiO₂(% en peso)"}},
          "stroke": {"field": "grupo", "type": "nominal", "scale": {"domain": ["Lava"], "range": ["#1a1a1a"]}, "legend": {"title": null, "orient": "none", "legendX": 1243, "legendY": 1058, "labelFontSize": 28, "labelFont": "Lato", "symbolType": "diamond", "symbolSize": 700, "symbolStrokeWidth": 2, "symbolFillColor": "#f5a84e", "labelOffset": 12}}}}
      ]
    },
    {
      "width": 445, "height": 256,
      "title": {"text": "R² = 0.7943"},
      "encoding": {"x": {"field": "SiO2", "type": "quantitative", "scale": {"domain": [54, 66], "nice": false, "zero": false}, "axis": {"values": [54, 56, 58, 60, 62, 64, 66], "title": "SiO₂(% en peso)"}}},
      "layer": [
        {"data": {"name": "lineas"}, "transform": [{"filter": "datum.oxido == 'P2O5'"}], "mark": {"type": "line", "clip": true},
         "encoding": {"y": {"field": "valor", "type": "quantitative", "scale": {"domain": [0.15, 0.30], "nice": false, "zero": false}, "axis": {"values": [0.15, 0.17, 0.19, 0.21, 0.23, 0.25, 0.27, 0.29], "format": ".2f", "title": "P₂O₅(% en peso)"}}}},
        {"data": {"name": "muestras"}, "transform": [{"filter": "datum.grupo == 'ZAC-13194' || datum.grupo == 'ZAC-14279'"}], "mark": {"type": "point", "shape": "square", "size": 290, "filled": true, "opacity": 1, "stroke": "#1a1a1a", "strokeWidth": 1.5},
         "encoding": {"y": {"field": "P2O5", "type": "quantitative", "scale": {"domain": [0.15, 0.30], "nice": false, "zero": false}, "axis": {"values": [0.15, 0.17, 0.19, 0.21, 0.23, 0.25, 0.27, 0.29], "format": ".2f", "title": "P₂O₅(% en peso)"}},
          "fill": {"field": "grupo", "type": "nominal", "scale": {"domain": ["ZAC-13194", "ZAC-14279"], "range": ["#7c9c45", "#4c7bbd"]}, "legend": {"title": ["Bombas de las secciónes", "estratigráficas"], "orient": "none", "legendX": 298, "legendY": 1013, "direction": "horizontal", "titleAnchor": "middle", "titleFontSize": 26, "titleLineHeight": 35, "titleColor": "#555", "titleFontWeight": "normal", "titlePadding": 22, "labelFontSize": 28, "symbolType": "square", "symbolSize": 420, "symbolStrokeColor": "#111", "symbolStrokeWidth": 2, "columnPadding": 40, "labelOffset": 10}}}},
        {"data": {"name": "muestras"}, "transform": [{"filter": "datum.grupo == 'ZAC-1001' || datum.grupo == 'ZAC-14282'"}], "mark": {"type": "point", "shape": "square", "size": 290, "filled": true, "opacity": 1, "stroke": "#1a1a1a", "strokeWidth": 1.5},
         "encoding": {"y": {"field": "P2O5", "type": "quantitative", "scale": {"domain": [0.15, 0.30], "nice": false, "zero": false}, "axis": {"values": [0.15, 0.17, 0.19, 0.21, 0.23, 0.25, 0.27, 0.29], "format": ".2f", "title": "P₂O₅(% en peso)"}},
          "color": {"field": "grupo", "type": "nominal", "scale": {"domain": ["ZAC-1001", "ZAC-14282"], "range": ["#de3f1f", "#7b3fbf"]}, "legend": {"title": "Bomba en Hummock", "titleOrient": "bottom", "titleAnchor": "end", "titleFontSize": 16, "titleFontWeight": "bold", "titleColor": "#222", "titlePadding": 2, "orient": "none", "legendX": 909, "legendY": 1051, "direction": "vertical", "labelFontSize": 28, "symbolType": "square", "symbolSize": 620, "symbolStrokeColor": "#111", "symbolStrokeWidth": 2.5, "rowPadding": 8, "labelOffset": 36}}}},
        {"data": {"name": "muestras"}, "transform": [{"filter": "datum.grupo == 'Lava'"}], "mark": {"type": "point", "shape": "diamond", "size": 480, "filled": true, "opacity": 1, "fill": "#f5a84e", "strokeWidth": 1.5},
         "encoding": {"y": {"field": "P2O5", "type": "quantitative", "scale": {"domain": [0.15, 0.30], "nice": false, "zero": false}, "axis": {"values": [0.15, 0.17, 0.19, 0.21, 0.23, 0.25, 0.27, 0.29], "format": ".2f", "title": "P₂O₅(% en peso)"}},
          "stroke": {"field": "grupo", "type": "nominal", "scale": {"domain": ["Lava"], "range": ["#1a1a1a"]}, "legend": {"title": null, "orient": "none", "legendX": 1243, "legendY": 1058, "labelFontSize": 28, "labelFont": "Lato", "symbolType": "diamond", "symbolSize": 700, "symbolStrokeWidth": 2, "symbolFillColor": "#f5a84e", "labelOffset": 12}}}}
      ]
    }
  ],
  "columns": 3,
  "spacing": {"row": 76, "column": 145},
  "bounds": "flush",
  "config": {
    "font": "Open Sans",
    "view": {"stroke": "#111", "strokeWidth": 2},
    "axis": {"grid": false, "domainColor": "#111", "domainWidth": 2, "tickColor": "#111", "tickWidth": 2, "tickSize": 6, "labelFont": "Liberation Sans Narrow, DejaVu Sans Condensed, sans-serif", "labelFontSize": 13, "labelFontWeight": "bold", "labelColor": "#444", "labelPadding": 3, "titleFont": "Open Sans", "titleFontSize": 21, "titleFontWeight": "normal", "titleColor": "#222"},
    "axisY": {"titleX": -58},
    "axisX": {"titlePadding": 22, "titleFontWeight": 600},
    "title": {"anchor": "end", "orient": "top", "offset": -28, "dx": -10, "fontSize": 12, "fontWeight": "bold", "color": "#333", "font": "Open Sans"},
    "line": {"color": "#505050", "strokeWidth": 2},
    "legend": {"labelFont": "Liberation Sans Narrow, DejaVu Sans Condensed, sans-serif", "titleFont": "Liberation Sans Narrow, DejaVu Sans Condensed, sans-serif", "labelColor": "#111", "symbolOpacity": 1, "labelLimit": 400, "titleLimit": 500}
  }
}
